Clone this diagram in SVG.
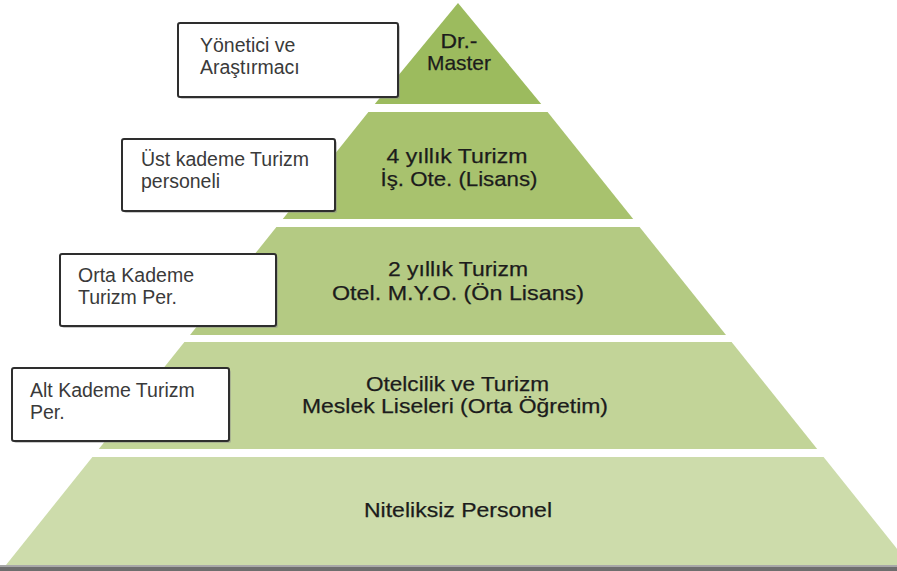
<svg xmlns="http://www.w3.org/2000/svg" width="897" height="571" viewBox="0 0 897 571">
<style>
  .lvl text{font-family:"Liberation Sans",Arial,sans-serif;font-size:21px;fill:#1c1c1c;stroke:#1c1c1c;stroke-width:0.25;text-anchor:middle}
  .box rect.f{fill:#ffffff;stroke:#2e2e2e;stroke-width:2}
  .box rect.s{fill:#8a8a8a;opacity:0.45}
  .box text{font-family:"Liberation Sans",Arial,sans-serif;font-size:19.5px;fill:#3a3a3a}
</style>
<rect x="0" y="0" width="897" height="571" fill="#ffffff"/>
<g id="connectors"></g>
<g id="level1" class="lvl">
  <polygon points="458,3 374.8,104 541.2,104" fill="#9cbb5e"/>
  <text x="459" y="48" textLength="37" lengthAdjust="spacingAndGlyphs">Dr.-</text>
  <text x="459" y="70" textLength="64" lengthAdjust="spacingAndGlyphs">Master</text>
</g>
<g id="level2" class="lvl">
  <polygon points="368.4,112 547.6,112 633.2,219 282.8,219" fill="#a8c26e"/>
  <text x="457" y="163" textLength="141" lengthAdjust="spacingAndGlyphs">4 yıllık Turizm</text>
  <text x="459" y="186" textLength="157" lengthAdjust="spacingAndGlyphs">İş. Ote. (Lisans)</text>
</g>
<g id="level3" class="lvl">
  <polygon points="276.4,227 639.6,227 726,335 190,335" fill="#b4ca83"/>
  <text x="458" y="276" textLength="140" lengthAdjust="spacingAndGlyphs">2 yıllık Turizm</text>
  <text x="458" y="300" textLength="252" lengthAdjust="spacingAndGlyphs">Otel. M.Y.O. (Ön Lisans)</text>
</g>
<g id="level4" class="lvl">
  <polygon points="184.4,342 731.6,342 817.2,449 98.8,449" fill="#c2d498"/>
  <text x="457.5" y="391" textLength="183" lengthAdjust="spacingAndGlyphs">Otelcilik ve Turizm</text>
  <text x="455" y="413" textLength="306" lengthAdjust="spacingAndGlyphs">Meslek Liseleri (Orta Öğretim)</text>
</g>
<g id="level5" class="lvl">
  <polygon points="92.4,457 823.6,457 910,565 6,565" fill="#cddcab"/>
  <text x="458" y="517" textLength="188" lengthAdjust="spacingAndGlyphs">Niteliksiz Personel</text>
</g>
<g id="baseline">
  <rect x="0" y="565" width="897" height="2" fill="#a8a8a8"/>
  <rect x="0" y="567" width="897" height="4" fill="#6e6e6e"/>
</g>
<g id="box1" class="box">
  <rect class="s" x="180" y="25" width="220" height="74" rx="2"/>
  <rect class="f" x="178" y="23" width="220" height="74" rx="2"/>
  <text x="200" y="52">Yönetici ve</text>
  <text x="200" y="74">Araştırmacı</text>
</g>
<g id="box2" class="box">
  <rect class="s" x="124" y="141" width="213" height="72" rx="2"/>
  <rect class="f" x="122" y="139" width="213" height="72" rx="2"/>
  <text x="141" y="166">Üst kademe Turizm</text>
  <text x="141" y="188">personeli</text>
</g>
<g id="box3" class="box">
  <rect class="s" x="62" y="256" width="216" height="72" rx="2"/>
  <rect class="f" x="60" y="254" width="216" height="72" rx="2"/>
  <text x="78" y="282">Orta Kademe</text>
  <text x="78" y="304">Turizm Per.</text>
</g>
<g id="box4" class="box">
  <rect class="s" x="14" y="370" width="217" height="73" rx="2"/>
  <rect class="f" x="12" y="368" width="217" height="73" rx="2"/>
  <text x="30" y="397">Alt Kademe Turizm</text>
  <text x="30" y="419">Per.</text>
</g>
</svg>
